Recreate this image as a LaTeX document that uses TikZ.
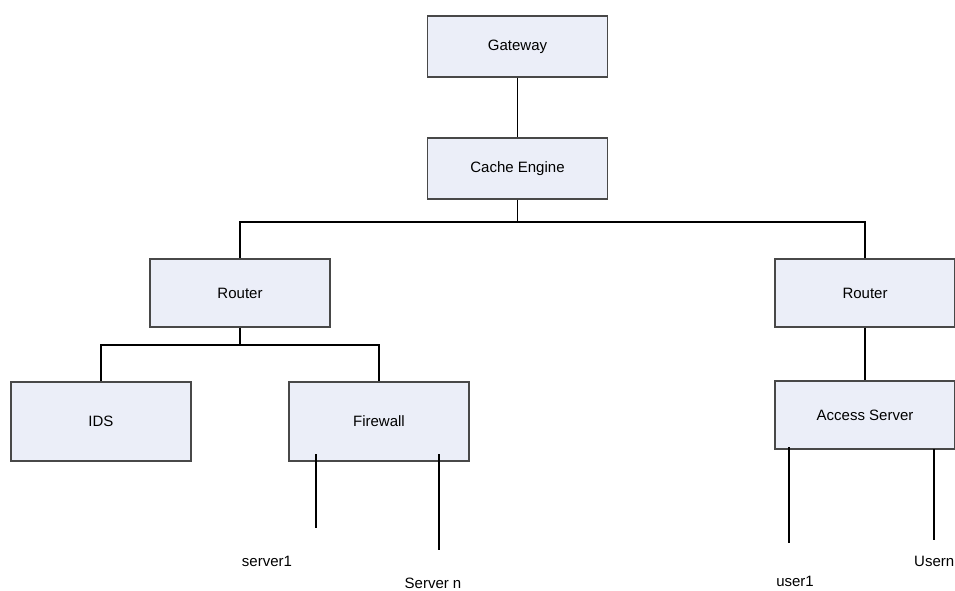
\documentclass[tikz,border=0pt]{standalone}
\usepackage{fontspec}
\setmainfont{Liberation Sans}
\definecolor{boxfill}{HTML}{EBEEF8}
\definecolor{boxline}{HTML}{484848}
\begin{document}
\begin{tikzpicture}[x=1pt,y=-1pt,
  netbox/.style={draw=boxline,fill=boxfill,line width=1.2pt,minimum width=180pt,inner sep=0pt,font=\fontsize{15}{18}\selectfont},
  wire/.style={draw=black,line width=1.3pt},
  lbl/.style={font=\fontsize{15}{18}\selectfont,inner sep=0pt}]
\useasboundingbox (0,0) rectangle (955,590);
\clip (0,0) rectangle (955,590);
\node[netbox,minimum height=61pt] (gw) at (517.5,46.5) {Gateway};
\node[netbox,minimum height=61pt] (ce) at (517.5,168.5) {Cache Engine};
\node[netbox,minimum height=68pt] (rl) at (240,293) {Router};
\node[netbox,minimum height=68pt] (rr) at (865,293) {Router};
\node[netbox,minimum height=79pt] (ids) at (101,421.5) {IDS};
\node[netbox,minimum height=79pt] (fw) at (379,421.5) {Firewall};
\node[netbox,minimum height=68pt] (as) at (865,415) {Access Server};
\coordinate (jc) at (517.5,222);
\coordinate (jl) at (240,345);
\draw[wire] (gw.south) -- (ce.north);
\draw[wire] (ce.south) -- (jc);
\draw[wire] (jc) -| (rl.north);
\draw[wire] (jc) -| (rr.north);
\draw[wire] (rl.south) -- (jl);
\draw[wire] (jl) -| (ids.north);
\draw[wire] (jl) -| (fw.north);
\draw[wire] (rr.south) -- (as.north);
\coordinate (f1a) at (316,454); \coordinate (f1b) at (316,528);
\coordinate (f2a) at (439,454); \coordinate (f2b) at (439,550);
\coordinate (a1a) at (789,447); \coordinate (a1b) at (789,543);
\coordinate (a2a) at (934,449); \coordinate (a2b) at (934,540);
\draw[wire] (f1a) -- (f1b);
\draw[wire] (f2a) -- (f2b);
\draw[wire] (a1a) -- (a1b);
\draw[wire] (a2a) -- (a2b);
\node[lbl] (s1) at (267,561) {server1};
\node[lbl] (sn) at (433,583) {Server n};
\node[lbl] (u1) at (795,581) {user1};
\node[lbl,anchor=west] (un) at (914,561) {Usern};
\end{tikzpicture}
\end{document}
